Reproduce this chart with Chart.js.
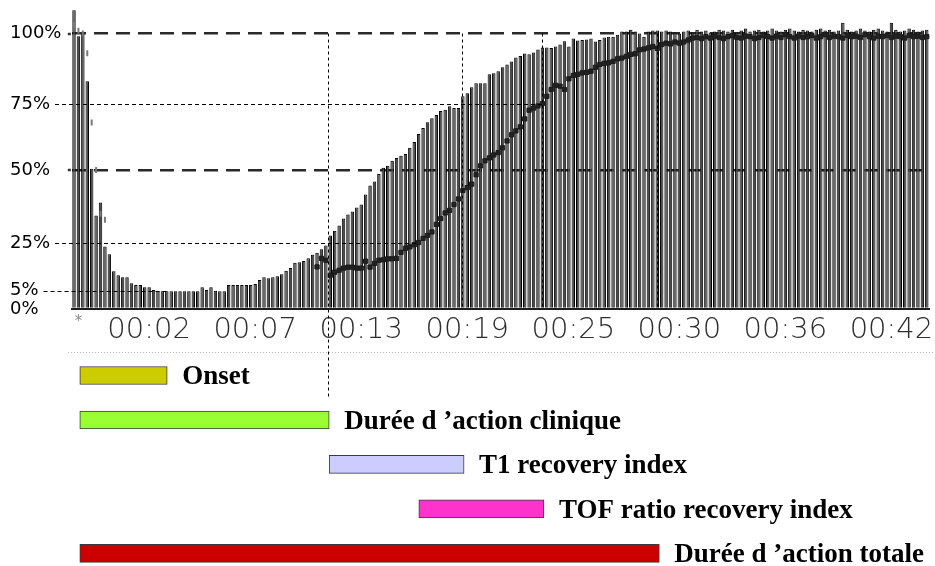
<!DOCTYPE html>
<html>
<head>
<meta charset="utf-8">
<title>TOF monitoring – curare block phases</title>
<script src="https://cdn.jsdelivr.net/npm/chart.js@4.4.1/dist/chart.umd.min.js"></script>
<style>
  html, body { margin: 0; padding: 0; background: #ffffff; }
  #wrap { position: relative; width: 935px; height: 566px; overflow: hidden; background: #ffffff; }
  #trace { position: absolute; left: 0; top: 0; }
  #phases { position: absolute; left: 0; top: 340px; }
</style>
</head>
<body>
<div id="wrap">
  <canvas id="trace" width="935" height="566"></canvas>
  <canvas id="phases" width="935" height="226"></canvas>
</div>
<script>
// T1 twitch height (% of control), one value per stimulation
const t1Height = [
  108.5, 99, 100, 83, 50.5, 34.4, 38.9, 23.6, 20.3, 13.2,
  11.5, 10.7, 10.7, 8.2, 7.4, 7.4, 6.5, 6.5, 5.3, 4.9,
  4.9, 4.9, 4.9, 4.9, 4.9, 4.9, 4.9, 4.9, 4.9, 6.5,
  5.3, 6.5, 5.0, 4.9, 4.9, 7.4, 7.4, 7.4, 7.4, 7.4,
  7.4, 7.8, 9.5, 10.7, 10.3, 10.7, 11.1, 11.9, 13.4, 14.5,
  16.8, 17.0, 17.5, 18.6, 20.1, 20.9, 22.4, 24.0, 27.6, 29.2,
  31.0, 33.4, 34.8, 35.8, 37.2, 38.2, 41.6, 44.7, 46.1, 48.7,
  50.9, 51.6, 53.5, 54.6, 55.4, 56.1, 58.4, 60.6, 63.6, 65.9,
  68.1, 69.6, 70.8, 72.3, 72.8, 74.1, 73.4, 73.4, 77.7, 78.8,
  80.9, 82.3, 82.3, 82.3, 85.5, 85.9, 86.6, 88.0, 89.0, 90.1,
  91.5, 92.0, 92.9, 92.6, 93.3, 94.3, 95.0, 95.0, 94.9, 95.4,
  96.1, 97.3, 95.4, 98.2, 97.5, 97.7, 97.9, 98.2, 97.2, 97.7,
  98.6, 98.9, 98.9, 99.6, 100.7, 100.7, 101.4, 100.7, 100.0, 98.9,
  100.7, 101.1, 101.1, 100.7, 101.1, 100.7, 100.4, 100.0, 100.7, 101.1,
  100.4, 101.4, 100.7, 101.1, 100.4, 100.7, 101.4, 101.1, 100.7, 101.4,
  100.4, 101.1, 101.8, 100.7, 101.1, 101.4, 100.7, 101.1, 101.8, 101.1,
  100.7, 101.4, 101.8, 101.1, 100.7, 101.4, 101.1, 100.7, 101.4, 101.8,
  101.1, 101.4, 100.7, 101.1, 103.9, 101.4, 100.7, 101.1, 101.8, 101.1,
  100.7, 101.4, 101.8, 101.1, 100.7, 103.9, 101.4, 100.7, 101.1, 101.8,
  101.4, 100.7, 101.1, 101.4
];

// TOF ratio (%), null while fewer than four responses are detected
const tofRatio = [
  103, 101, 100, 93, 68, 50, 35, 33, null, null,
  null, null, null, null, null, null, null, null, null, null,
  null, null, null, null, null, null, null, null, null, null,
  null, null, null, null, null, null, null, null, null, null,
  null, null, null, null, null, null, null, null, null, null,
  null, null, null, null, null, 15.0, 18.6, 17.8, 11.5, 12.8,
  13.6, 14.5, 14.9, 14.9, 14.5, 14.5, 17.4, 14.9, 16.5, 17.8,
  18.0, 18.4, 18.4, 18.6, 21.1, 22.8, 23.4, 24.3, 25.2, 26.6,
  27.6, 28.8, 31.4, 33.4, 35.3, 36.2, 38.2, 40.1, 43.0, 44.0,
  45.2, 48.4, 51.6, 53.5, 54.6, 55.7, 56.6, 58.4, 61.0, 63.3,
  64.8, 66.3, 69.3, 72.6, 73.4, 74.2, 75.1, 77.7, 80.1, 81.6,
  81.3, 80.1, 83.9, 85.1, 85.5, 86.0, 86.2, 86.6, 88.0, 89.0,
  89.4, 89.6, 90.1, 91.0, 91.3, 91.9, 92.6, 92.8, 94.2, 94.5,
  94.9, 95.4, 94.7, 96.1, 96.6, 96.3, 97.0, 96.6, 97.0, 97.7,
  98.4, 98.6, 98.2, 98.9, 98.4, 99.1, 98.6, 98.2, 98.9, 99.3,
  98.6, 98.4, 99.1, 98.9, 98.2, 98.6, 99.3, 98.9, 98.4, 99.1,
  98.6, 99.6, 98.9, 98.4, 99.1, 98.6, 98.9, 99.3, 98.4, 98.9,
  99.6, 98.6, 99.1, 98.9, 98.4, 99.3, 98.9, 99.1, 98.6, 99.6,
  98.9, 98.4, 99.1, 98.9, 99.3, 98.6, 99.1, 98.9, 98.4, 99.3,
  98.9, 99.1, 98.6, 98.9
];

// stimulation number used as the category of each bar
const samples = t1Height.map((_, i) => i);

// clock labels printed under the trace and the stimulation they sit on
const tickLabels = ['*', '00:02', '00:07', '00:13', '00:19', '00:25', '00:30', '00:36', '00:42'];
const tickSamples = [1, 17, 41, 65, 89, 113, 137, 161, 185];

// percentage levels labelled on the vertical axis
const yTickValues = [0, 5, 25, 50, 75, 100];
const majorLevels = [100, 50];

// the monitor's printed percentage marks are not evenly spaced:
// each labelled level paired with its position on an even grid
const axisCalibration = [[0, 0], [5, 6.61], [25, 23.94], [50, 50.43], [75, 74.48], [100, 100]];

// key moments (in stimulation units)
const injection = 1.3;
const maxBlock = 21;
const t1At25 = 57.5;
const t1At75 = 87.9;
const tofAt25 = 77.7;
const tofAt75 = 105.9;
const tofAt90 = 131.9;

// last stimulation of the initial (control) train of TOF readings
const controlTrainEnd = 7;

// reference levels traced until a given moment, and moments marked by a vertical guide
const guideLevels = [75, 25, 5];
const guideUntil = [tofAt75, tofAt25, maxBlock];
const guideTimes = [t1At25, t1At75, tofAt75, tofAt90];

// phases shown as time spans below the trace
const phaseLabels = ['Onset', 'Durée d \u2019action clinique', 'T1 recovery index', 'TOF ratio recovery index', 'Durée d \u2019action totale'];
const phaseStart = [injection, injection, t1At25, tofAt25, injection];
const phaseEnd = [maxBlock, t1At25, t1At75, tofAt75, tofAt90];
const phaseColours = ['#cccc00', '#99ff33', '#ccccff', '#ff33cc', '#cc0000'];

// linear scale whose labelled levels follow the calibration above
class CalibratedScale extends Chart.LinearScale {
  static id = 'calibrated';
  warp(v) {
    const k = axisCalibration;
    if (v <= k[0][0]) return k[0][1] + (v - k[0][0]);
    for (let j = 1; j < k.length; j++) {
      if (v <= k[j][0]) {
        const [v0, u0] = k[j - 1];
        const [v1, u1] = k[j];
        return u0 + (v - v0) * (u1 - u0) / (v1 - v0);
      }
    }
    const [vl, ul] = k[k.length - 1];
    return ul + (v - vl);
  }
  unwarp(u) {
    const k = axisCalibration;
    if (u <= k[0][1]) return k[0][0] + (u - k[0][1]);
    for (let j = 1; j < k.length; j++) {
      if (u <= k[j][1]) {
        const [v0, u0] = k[j - 1];
        const [v1, u1] = k[j];
        return v0 + (u - u0) * (v1 - v0) / (u1 - u0);
      }
    }
    const [vl, ul] = k[k.length - 1];
    return vl + (u - ul);
  }
  getPixelForValue(value) {
    if (value === null || value === undefined || isNaN(value)) return NaN;
    return super.getPixelForValue(this.warp(value));
  }
  getValueForPixel(pixel) {
    return this.unwarp(super.getValueForPixel(pixel));
  }
}
Chart.register(CalibratedScale);

// dashed reference levels, vertical time guides and the window edge
const traceGuides = {
  id: 'traceGuides',
  afterDraw(chart) {
    const { ctx, scales: { x, y } } = chart;
    const line = (x0, y0, x1, y1) => { ctx.beginPath(); ctx.moveTo(x0, y0); ctx.lineTo(x1, y1); ctx.stroke(); };
    ctx.save();
    ctx.font = '18px "DejaVu Sans"';
    ctx.strokeStyle = '#000000';
    ctx.lineWidth = 1;
    ctx.setLineDash([4, 3]);
    guideLevels.forEach((lvl, k) => {
      const py = Math.round(y.getPixelForValue(lvl)) + 0.5;
      const x0 = y.left + ctx.measureText(lvl + '%').width + 5;
      line(x0, py, x.getPixelForValue(guideUntil[k]), py);
    });
    ctx.setLineDash([3, 3]);
    guideTimes.forEach((t, k) => {
      const px = Math.round(x.getPixelForValue(t)) + 0.5;
      const yBottom = k === 0 ? 398 : y.getPixelForValue(0);
      line(px, y.getPixelForValue(100), px, yBottom);
    });
    // small tick marks beside the major levels
    ctx.setLineDash([]);
    ctx.lineWidth = 2.5;
    ctx.strokeStyle = '#333333';
    majorLevels.forEach(lvl => {
      const py = Math.round(y.getPixelForValue(lvl));
      line(x.left - 4, py, x.left - 1, py);
    });
    ctx.strokeStyle = '#b8b8b8';
    ctx.lineWidth = 1;
    ctx.setLineDash([1, 2]);
    line(68, 352.5, 935, 352.5);
    ctx.restore();
  }
};

const isControl = c => c.dataIndex <= controlTrainEnd;

new Chart(document.getElementById('trace'), {
  type: 'bar',
  data: {
    labels: samples,
    datasets: [
      {
        type: 'line',
        label: 'TOF ratio',
        data: tofRatio,
        showLine: false,
        pointStyle: c => isControl(c) ? 'line' : 'rect',
        rotation: c => isControl(c) ? 90 : 0,
        pointRadius: c => isControl(c) ? 3 : 3,
        pointBorderWidth: c => isControl(c) ? 2 : 1,
        pointBackgroundColor: '#222222',
        pointBorderColor: c => isControl(c) ? '#7a7a7a' : '#1a1a1a',
        order: 1
      },
      {
        type: 'bar',
        label: 'T1',
        data: t1Height,
        backgroundColor: '#4c4c4c',
        borderColor: '#000000',
        borderWidth: 1,
        barPercentage: 0.78,
        categoryPercentage: 1,
        order: 2
      }
    ]
  },
  options: {
    responsive: false,
    animation: false,
    events: [],
    layout: { padding: { left: 10, top: 4.3, right: 2.3, bottom: 0 } },
    plugins: { legend: { display: false }, tooltip: { enabled: false } },
    scales: {
      x: {
        type: 'category',
        offset: true,
        z: 1,
        grid: { display: false, drawTicks: false },
        border: { display: true, color: '#1e1e1e', width: 2 },
        ticks: {
          autoSkip: false,
          maxRotation: 0,
          minRotation: 0,
          padding: 4,
          callback: (v, i) => { const k = tickSamples.indexOf(i); return k < 0 ? '' : tickLabels[k]; },
          font: c => c.index === tickSamples[0]
            ? { family: 'DejaVu Sans', size: 15 }
            : { family: 'DejaVu Sans', size: 29, weight: 300 },
          color: c => c.index === tickSamples[0] ? '#8c8c8c' : '#2e2e2e'
        },
        afterFit: s => { s.height = 257; s.paddingLeft = 0; s.paddingRight = 0; }
      },
      y: {
        type: 'calibrated',
        min: 0,
        max: 110,
        z: 1,
        afterBuildTicks: s => { s.ticks = yTickValues.map(v => ({ value: v })); },
        ticks: {
          crossAlign: 'far',
          callback: v => v + '%',
          font: { family: 'DejaVu Sans', size: 18 },
          color: '#000000'
        },
        grid: {
          drawTicks: false,
          lineWidth: 2.4,
          color: c => (c.tick && majorLevels.includes(c.tick.value)) ? '#2a2a2a' : 'rgba(0,0,0,0)'
        },
        border: { display: false, dash: [14, 8] },
        afterFit: s => { s.width = 61.8; s.paddingTop = 0; s.paddingBottom = 0; }
      }
    }
  },
  plugins: [traceGuides]
});

// caption written to the right of each phase bar
const phaseCaptions = {
  id: 'phaseCaptions',
  afterDatasetsDraw(chart) {
    const { ctx } = chart;
    const meta = chart.getDatasetMeta(0);
    ctx.save();
    ctx.font = 'bold 27px "Liberation Serif"';
    ctx.fillStyle = '#000000';
    ctx.textAlign = 'left';
    ctx.textBaseline = 'middle';
    meta.data.forEach((bar, i) => {
      const right = Math.max(bar.x, bar.base);
      ctx.fillText(phaseLabels[i], right + 15, bar.y + 2);
    });
    ctx.restore();
  }
};

new Chart(document.getElementById('phases'), {
  type: 'bar',
  data: {
    labels: phaseLabels,
    datasets: [{
      data: phaseLabels.map((_, i) => [phaseStart[i], phaseEnd[i]]),
      backgroundColor: phaseColours,
      borderColor: '#3a3a3a',
      borderWidth: 1,
      borderSkipped: false,
      barThickness: 18,
      clip: false
    }]
  },
  options: {
    indexAxis: 'y',
    responsive: false,
    animation: false,
    events: [],
    layout: { padding: { left: 71.8, right: 2.3, top: 35.5, bottom: 12.6 } },
    plugins: { legend: { display: false }, tooltip: { enabled: false } },
    scales: {
      x: { type: 'linear', min: -0.5, max: samples.length - 0.5, display: false },
      y: { type: 'category', offset: false, display: false }
    }
  },
  plugins: [phaseCaptions]
});
</script>
</body>
</html>
